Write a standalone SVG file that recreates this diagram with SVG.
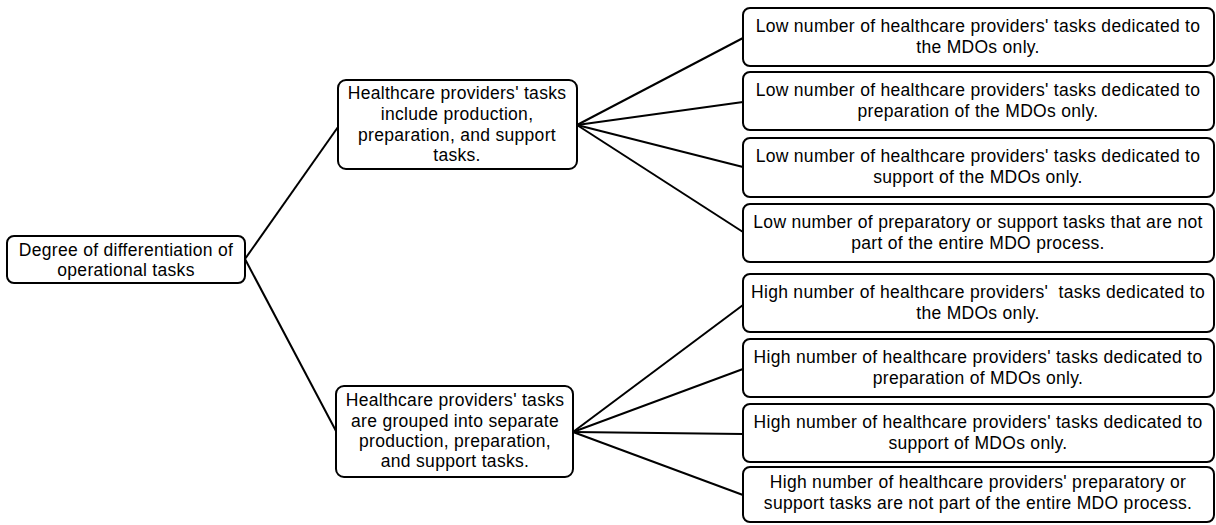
<svg xmlns="http://www.w3.org/2000/svg" width="1216" height="525" viewBox="0 0 1216 525">
<style>
.box{fill:#fff;stroke:#000;stroke-width:2}
.t{font-family:"Liberation Sans",Arial,sans-serif;font-size:17.5px;fill:#000;text-anchor:middle;letter-spacing:0.3px}
.c{stroke:#000;stroke-width:2;fill:none}
</style>
<rect width="1216" height="525" fill="#fff"/>
<g id="connectors">
<line class="c" x1="245" y1="259" x2="338" y2="127"/>
<line class="c" x1="245" y1="259" x2="336" y2="431"/>
<line class="c" x1="577" y1="125" x2="743" y2="38"/>
<line class="c" x1="577" y1="125" x2="743" y2="102"/>
<line class="c" x1="577" y1="125" x2="743" y2="167"/>
<line class="c" x1="577" y1="125" x2="743" y2="232"/>
<line class="c" x1="573" y1="432" x2="743" y2="305"/>
<line class="c" x1="573" y1="432" x2="743" y2="369"/>
<line class="c" x1="573" y1="432" x2="743" y2="434"/>
<line class="c" x1="573" y1="432" x2="743" y2="495"/>
</g>
<g id="root">
<rect class="box" x="7" y="236" width="238" height="47" rx="7"/>
<text class="t" x="126" y="256">Degree of differentiation of</text>
<text class="t" x="126" y="276">operational tasks</text>
</g>
<g id="mid1">
<rect class="box" x="338" y="80" width="239" height="89" rx="8"/>
<text class="t" x="457" y="99">Healthcare providers' tasks</text>
<text class="t" x="457" y="120">include production,</text>
<text class="t" x="457" y="141">preparation, and support</text>
<text class="t" x="457" y="161">tasks.</text>
</g>
<g id="mid2">
<rect class="box" x="336" y="386" width="237" height="91" rx="8"/>
<text class="t" x="455" y="406">Healthcare providers' tasks</text>
<text class="t" x="455" y="427">are grouped into separate</text>
<text class="t" x="455" y="447">production, preparation,</text>
<text class="t" x="455" y="467">and support tasks.</text>
</g>
<g id="low1">
<rect class="box" x="743" y="8" width="471" height="58" rx="7"/>
<text class="t" x="978" y="32">Low number of healthcare providers' tasks dedicated to</text>
<text class="t" x="978" y="53">the MDOs only.</text>
</g>
<g id="low2">
<rect class="box" x="743" y="72" width="471" height="58" rx="7"/>
<text class="t" x="978" y="96">Low number of healthcare providers' tasks dedicated to</text>
<text class="t" x="978" y="117">preparation of the MDOs only.</text>
</g>
<g id="low3">
<rect class="box" x="743" y="138" width="471" height="59" rx="7"/>
<text class="t" x="978" y="162">Low number of healthcare providers' tasks dedicated to</text>
<text class="t" x="978" y="183">support of the MDOs only.</text>
</g>
<g id="low4">
<rect class="box" x="743" y="204" width="471" height="58" rx="7"/>
<text class="t" x="978" y="228">Low number of preparatory or support tasks that are not</text>
<text class="t" x="978" y="249">part of the entire MDO process.</text>
</g>
<g id="high1">
<rect class="box" x="743" y="274" width="471" height="58" rx="7"/>
<text class="t" x="978" y="298" xml:space="preserve">High number of healthcare providers'  tasks dedicated to</text>
<text class="t" x="978" y="319">the MDOs only.</text>
</g>
<g id="high2">
<rect class="box" x="743" y="339" width="471" height="58" rx="7"/>
<text class="t" x="978" y="363">High number of healthcare providers' tasks dedicated to</text>
<text class="t" x="978" y="384">preparation of MDOs only.</text>
</g>
<g id="high3">
<rect class="box" x="743" y="404" width="471" height="58" rx="7"/>
<text class="t" x="978" y="428">High number of healthcare providers' tasks dedicated to</text>
<text class="t" x="978" y="449">support of MDOs only.</text>
</g>
<g id="high4">
<rect class="box" x="743" y="467" width="471" height="55" rx="7"/>
<text class="t" x="978" y="488">High number of healthcare providers' preparatory or</text>
<text class="t" x="978" y="509">support tasks are not part of the entire MDO process.</text>
</g>
</svg>
